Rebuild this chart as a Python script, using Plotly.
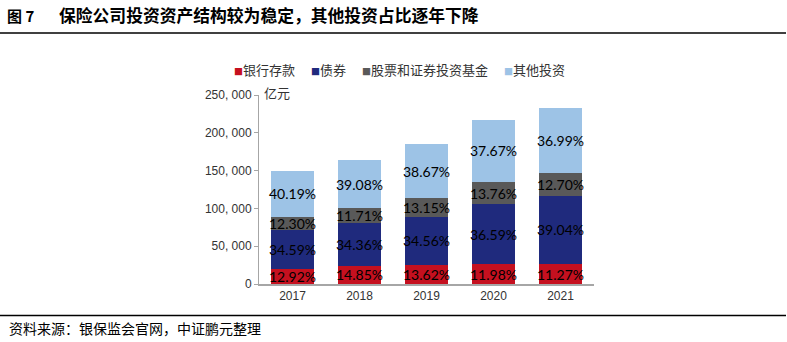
import plotly.graph_objects as go

# Insurance investment balance (100 million yuan) and asset-class shares (%)
years = ["2017", "2018", "2019", "2020", "2021"]
totals = [149206, 164088, 185271, 216801, 232280]
deposit_pct = [12.92, 14.85, 13.62, 11.98, 11.27]
bond_pct = [34.59, 34.36, 34.56, 36.59, 39.04]
stock_fund_pct = [12.30, 11.71, 13.15, 13.76, 12.70]
other_pct = [40.19, 39.08, 38.67, 37.67, 36.99]

series_names = ["银行存款", "债券", "股票和证券投资基金", "其他投资"]
series_pcts = [deposit_pct, bond_pct, stock_fund_pct, other_pct]
series_colors = ["#C5101F", "#1F2A7D", "#595959", "#9DC3E6"]

y_ticks = [0, 50000, 100000, 150000, 200000, 250000]
y_tick_text = ["0", "50, 000", "100, 000", "150, 000", "200, 000", "250, 000"]

# plot-area geometry in pixels (used to place the surrounding text/lines)
W, H = 787, 342
L, R, T, B = 259, 594, 95, 284
PW, PH = R - L, B - T


def px(x):
    return (x - L) / PW


def py(y):
    return (B - y) / PH


fig = go.Figure()
for name, pcts, color in zip(series_names, series_pcts, series_colors):
    values = [t * p / 100 for t, p in zip(totals, pcts)]
    fig.add_trace(go.Bar(
        x=years, y=values, name=name,
        marker=dict(color=color, line=dict(width=0)),
        text=[f"{p:.2f}%" for p in pcts],
        textposition="inside", insidetextanchor="middle",
        constraintext="none", textangle=0,
        textfont=dict(family="Lato", size=14, color="#000000"),
        showlegend=False, hoverinfo="skip",
    ))

fig.update_layout(
    width=W, height=H,
    margin=dict(l=L, r=W - R, t=T, b=H - B),
    barmode="stack", bargap=0.36,
    plot_bgcolor="white", paper_bgcolor="white",
    font=dict(family="Noto Sans CJK SC", color="#333333"),
    xaxis=dict(
        showline=True, linecolor="#A6A6A6", linewidth=1.5,
        ticks="", showgrid=False,
        tickfont=dict(family="Liberation Sans", size=12, color="#333333"),
    ),
    yaxis=dict(
        range=[0, 250000], tickvals=y_ticks, ticktext=y_tick_text,
        showline=True, linecolor="#A6A6A6", linewidth=1,
        ticks="outside", ticklen=4, tickcolor="#A6A6A6",
        showgrid=False, zeroline=False,
        tickfont=dict(family="Liberation Sans", size=12, color="#333333"),
    ),
)

annotations = []
# legend row
legend_x = [232, 309, 360, 502]
for name, color, x0 in zip(series_names, series_colors, legend_x):
    annotations.append(dict(
        x=px(x0), y=py(70), xref="paper", yref="paper",
        xanchor="left", yanchor="middle", showarrow=False,
        text=f'<span style="color:{color};font-size:9px">■</span>{name}',
        font=dict(family="Noto Sans CJK SC", size=13, color="#333333"),
    ))

# unit label
annotations.append(dict(
    x=px(262), y=py(92), xref="paper", yref="paper",
    xanchor="left", yanchor="middle", showarrow=False,
    text="亿元", font=dict(family="Noto Sans CJK SC", size=13, color="#333333"),
))

# figure title
annotations.append(dict(
    x=px(5), y=py(15), xref="paper", yref="paper",
    xanchor="left", yanchor="middle", showarrow=False,
    text="<b>图 7</b>",
    font=dict(family="Noto Sans CJK SC", size=15, color="#000000"),
))
annotations.append(dict(
    x=px(57), y=py(15), xref="paper", yref="paper",
    xanchor="left", yanchor="middle", showarrow=False,
    text="<b>保险公司投资资产结构较为稳定，其他投资占比逐年下降</b>",
    font=dict(family="Noto Sans CJK SC", size=16.8, color="#000000"),
))

# source note
annotations.append(dict(
    x=px(7), y=py(328), xref="paper", yref="paper",
    xanchor="left", yanchor="middle", showarrow=False,
    text="资料来源：银保监会官网，中证鹏元整理",
    font=dict(family="Noto Sans CJK SC", size=14, color="#000000"),
))
fig.update_layout(annotations=annotations)

# rules under the title and above the source note
for y_line in (33, 315.5):
    fig.add_shape(
        type="line", xref="paper", yref="paper",
        x0=px(0), x1=px(786), y0=py(y_line), y1=py(y_line),
        line=dict(color="#000000", width=1.5),
    )

fig.write_html("out.html")
